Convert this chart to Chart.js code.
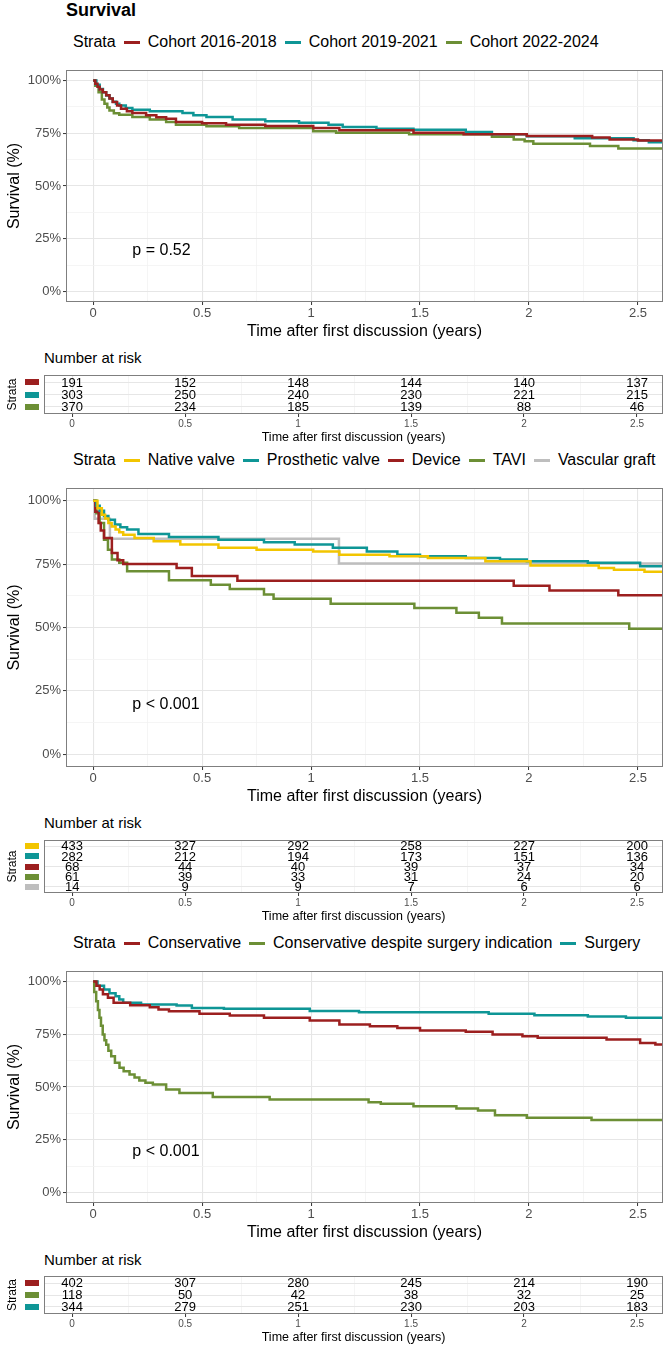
<!doctype html>
<html lang="en">
<head>
<meta charset="utf-8">
<title>Survival</title>
<style>
  body { margin: 0; background: #fff; font-family: 'Liberation Sans', Arial, sans-serif; }
  #page { position: relative; width: 672px; height: 1347px; overflow: hidden; }
  canvas { position: absolute; left: 0; }
  .txt { position: absolute; white-space: nowrap; color: #000; }
  .legend { position: absolute; left: 73px; display: flex; align-items: center; height: 18px; font-size: 16px; line-height: 18px; white-space: nowrap; }
  .legend .key { width: 16px; height: 3px; margin: 0 8px; }
</style>
</head>
<body>
<div id="page">
  <div class="txt" style="left:66px;top:0;font-size:18px;line-height:20px;font-weight:bold">Survival</div>
  <div class="legend" id="legend1" style="top:33px"></div>
  <canvas id="km1"></canvas>
  <div class="txt" style="left:44px;top:349px;font-size:15px;line-height:18px">Number at risk</div>
  <canvas id="risk1"></canvas>

  <div class="legend" id="legend2" style="top:451px"></div>
  <canvas id="km2"></canvas>
  <div class="txt" style="left:44px;top:814px;font-size:15px;line-height:18px">Number at risk</div>
  <canvas id="risk2"></canvas>

  <div class="legend" id="legend3" style="top:934px"></div>
  <canvas id="km3"></canvas>
  <div class="txt" style="left:44px;top:1251px;font-size:15px;line-height:18px">Number at risk</div>
  <canvas id="risk3"></canvas>
</div>

<script src="https://cdn.jsdelivr.net/npm/chart.js"></script>
<script>
// ---- data: [time in years, survival] at each step ----
const cohort1618 = [[0,1],[0.01,0.985],[0.02,0.97],[0.03,0.958],[0.044,0.945],[0.06,0.93],[0.075,0.915],[0.09,0.898],[0.11,0.882],[0.128,0.866],[0.155,0.855],[0.18,0.846],[0.243,0.835],[0.29,0.826],[0.335,0.819],[0.38,0.803],[0.5,0.797],[0.61,0.79],[0.79,0.785],[1.01,0.775],[1.13,0.764],[1.47,0.752],[1.7,0.745],[1.99,0.737],[2.29,0.73],[2.37,0.72],[2.5,0.716],[2.62,0.716]];
const cohort1921 = [[0,1],[0.015,0.98],[0.03,0.96],[0.045,0.945],[0.06,0.929],[0.075,0.915],[0.09,0.9],[0.105,0.89],[0.12,0.882],[0.15,0.87],[0.18,0.862],[0.26,0.854],[0.41,0.846],[0.46,0.836],[0.52,0.827],[0.64,0.815],[0.79,0.807],[0.945,0.8],[1.08,0.79],[1.145,0.78],[1.3,0.772],[1.47,0.767],[1.71,0.756],[1.83,0.745],[1.99,0.736],[2.21,0.726],[2.48,0.717],[2.55,0.708],[2.62,0.708]];
const cohort2224 = [[0,1],[0.01,0.975],[0.025,0.945],[0.04,0.91],[0.052,0.89],[0.065,0.872],[0.075,0.858],[0.095,0.845],[0.12,0.838],[0.18,0.827],[0.26,0.815],[0.335,0.803],[0.38,0.79],[0.52,0.783],[0.67,0.775],[1.01,0.76],[1.115,0.753],[1.45,0.745],[1.83,0.733],[1.93,0.72],[1.98,0.712],[2.02,0.70],[2.28,0.69],[2.41,0.678],[2.62,0.678]];

const nativeValve = [[0,1],[0.02,0.97],[0.04,0.945],[0.055,0.93],[0.07,0.912],[0.085,0.898],[0.103,0.886],[0.12,0.876],[0.138,0.866],[0.19,0.853],[0.278,0.84],[0.4,0.827],[0.575,0.814],[0.75,0.807],[1.01,0.8],[1.13,0.787],[1.36,0.781],[1.536,0.774],[1.8,0.761],[2.007,0.744],[2.32,0.735],[2.39,0.728],[2.53,0.72],[2.62,0.72]];
const prostheticValve = [[0,1],[0.015,0.98],[0.03,0.96],[0.05,0.94],[0.07,0.925],[0.1,0.906],[0.125,0.895],[0.156,0.886],[0.208,0.869],[0.348,0.857],[0.575,0.846],[0.784,0.836],[0.925,0.827],[1.1,0.814],[1.256,0.8],[1.396,0.787],[1.5,0.781],[1.71,0.774],[1.867,0.768],[1.99,0.761],[2.27,0.755],[2.51,0.741],[2.62,0.741]];
const device = [[0,1],[0.01,0.956],[0.025,0.912],[0.035,0.882],[0.05,0.853],[0.086,0.794],[0.112,0.765],[0.138,0.75],[0.383,0.735],[0.453,0.703],[0.662,0.684],[1.93,0.665],[2.094,0.646],[2.41,0.627],[2.62,0.627]];
const tavi = [[0,1],[0.015,0.95],[0.03,0.912],[0.05,0.846],[0.068,0.807],[0.086,0.768],[0.12,0.755],[0.156,0.722],[0.348,0.686],[0.54,0.669],[0.627,0.652],[0.784,0.63],[0.828,0.613],[1.09,0.594],[1.474,0.577],[1.667,0.558],[1.77,0.538],[1.876,0.516],[2.46,0.495],[2.62,0.495]];
const vascularGraft = [[0,1],[0.007,0.929],[0.077,0.85],[1.128,0.752],[2.62,0.752]];

const conservative = [[0,1],[0.015,0.98],[0.03,0.962],[0.045,0.94],[0.068,0.923],[0.094,0.899],[0.17,0.888],[0.26,0.878],[0.3,0.868],[0.348,0.859],[0.488,0.847],[0.627,0.839],[0.784,0.828],[0.994,0.815],[1.13,0.796],[1.27,0.788],[1.396,0.78],[1.5,0.768],[1.71,0.762],[1.833,0.749],[1.97,0.741],[2.04,0.733],[2.356,0.725],[2.51,0.709],[2.58,0.702],[2.62,0.702]];
const despiteIndication = [[0,1],[0.005,0.95],[0.014,0.907],[0.022,0.865],[0.029,0.828],[0.036,0.79],[0.044,0.749],[0.052,0.722],[0.06,0.7],[0.07,0.672],[0.083,0.646],[0.1,0.615],[0.121,0.591],[0.14,0.575],[0.167,0.559],[0.19,0.545],[0.212,0.531],[0.24,0.52],[0.274,0.512],[0.335,0.488],[0.396,0.472],[0.549,0.452],[0.81,0.441],[1.264,0.428],[1.32,0.42],[1.47,0.409],[1.667,0.398],[1.766,0.389],[1.844,0.366],[1.99,0.354],[2.287,0.343],[2.62,0.343]];
const surgery = [[0,1],[0.02,0.98],[0.05,0.962],[0.075,0.945],[0.103,0.93],[0.12,0.915],[0.138,0.899],[0.22,0.891],[0.383,0.886],[0.453,0.875],[0.6,0.871],[0.994,0.86],[1.22,0.855],[1.815,0.847],[2.025,0.84],[2.27,0.834],[2.445,0.828],[2.62,0.828]];

const strata1 = ['Cohort 2016-2018', 'Cohort 2019-2021', 'Cohort 2022-2024'];
const strata2 = ['Native valve', 'Prosthetic valve', 'Device', 'TAVI', 'Vascular graft'];
const strata3 = ['Conservative', 'Conservative despite surgery indication', 'Surgery'];

const pValues = ['p = 0.52', 'p < 0.001', 'p < 0.001'];

// number at risk
const riskTimes = [0, 0.5, 1, 1.5, 2, 2.5];
const risk1 = [[191,152,148,144,140,137],[303,250,240,230,221,215],[370,234,185,139,88,46]];
const risk2 = [[433,327,292,258,227,200],[282,212,194,173,151,136],[68,44,40,39,37,34],[61,39,33,31,24,20],[14,9,9,7,6,6]];
const risk3 = [[402,307,280,245,214,190],[118,50,42,38,32,25],[344,279,251,230,203,183]];

const xGrid = [0,0.25,0.5,0.75,1,1.25,1.5,1.75,2,2.25,2.5];
const yGrid = [0,0.125,0.25,0.375,0.5,0.625,0.75,0.875,1];

// ---- styling ----
const RED = '#9C1F1F', TEAL = '#0E9696', GREEN = '#6C8F35', YELLOW = '#F2C500', GREY = '#BEBEBE';
const FONT = "'Liberation Sans', Arial, sans-serif";
const xMin = -0.1245, xMax = 2.615;

Chart.defaults.font.family = FONT;
Chart.defaults.color = '#000';

const isMajor = (v, step) => Math.abs(v / step - Math.round(v / step)) < 1e-6;

const panelBox = {
  id: 'panelBox',
  afterDraw(chart) {
    const a = chart.chartArea, c = chart.ctx;
    c.save();
    c.strokeStyle = '#7f7f7f';
    c.lineWidth = 1;
    c.strokeRect(Math.round(a.left) + 0.5, Math.round(a.top) + 0.5, Math.round(a.right - a.left) - 1, Math.round(a.bottom - a.top) - 1);
    c.restore();
  }
};

const pLabel = {
  id: 'pLabel',
  afterDatasetsDraw(chart, args, opts) {
    const {ctx, scales: {x, y}} = chart;
    ctx.save();
    ctx.font = '16px ' + FONT;
    ctx.fillStyle = '#000';
    ctx.textAlign = 'left';
    ctx.textBaseline = 'middle';
    ctx.fillText(opts.text, x.getPixelForValue(0.18), y.getPixelForValue(0.195));
    ctx.restore();
  }
};

const riskText = {
  id: 'riskText',
  afterDatasetsDraw(chart) {
    const {ctx, scales: {y}} = chart;
    ctx.save();
    chart.data.datasets.forEach((ds, i) => {
      const meta = chart.getDatasetMeta(i);
      ctx.font = '13px ' + FONT;
      ctx.fillStyle = '#000';
      ctx.textAlign = 'center';
      ctx.textBaseline = 'middle';
      meta.data.forEach((pt, j) => ctx.fillText(String(ds.counts[j]), pt.x, pt.y + 0.5));
      ctx.fillStyle = ds.swatch;
      ctx.fillRect(25, Math.round(y.getPixelForValue(i + 1)) - 3, 14, 6);
    });
    ctx.restore();
  }
};

function gridOpts(step) {
  return {
    color: ctx => isMajor(ctx.tick.value, step) ? '#e6e6e6' : '#f2f2f2',
    lineWidth: ctx => isMajor(ctx.tick.value, step) ? 1.1 : 0.8,
    tickLength: 3,
    tickWidth: 1,
    tickColor: ctx => isMajor(ctx.tick.value, step) ? '#333' : 'rgba(0,0,0,0)'
  };
}

function buildLegend(id, names, colors) {
  const el = document.getElementById(id);
  el.innerHTML = '<span>Strata</span>' + names.map((n, i) =>
    '<span class="key" style="background:' + colors[i] + '"></span><span>' + n + '</span>').join('');
}

function kmChart(id, top, panelTop, panelBottom, curves, names, colors, pText) {
  const cv = document.getElementById(id);
  cv.width = 672;
  cv.height = panelBottom + 40 - top;
  cv.style.top = top + 'px';
  new Chart(cv, {
    type: 'line',
    data: {
      datasets: curves.map((d, i) => ({
        label: names[i], data: d, borderColor: colors[i], backgroundColor: colors[i],
        borderWidth: 2.5, pointRadius: 0, stepped: 'before', fill: false
      }))
    },
    options: {
      responsive: false,
      animation: false,
      events: [],
      layout: { padding: { top: panelTop - top, right: 9, bottom: 0, left: 0 } },
      scales: {
        x: {
          type: 'linear', min: xMin, max: xMax,
          afterBuildTicks: s => { s.ticks = xGrid.map(v => ({ value: v })); },
          afterFit: s => { s.height = 40; },
          grid: gridOpts(0.5),
          border: { display: false },
          ticks: { autoSkip: false, maxRotation: 0, padding: 2, color: '#4d4d4d',
                   font: { size: 13, lineHeight: 1 },
                   callback: v => isMajor(v, 0.5) ? String(v) : '' },
          title: { display: true, text: 'Time after first discussion (years)', color: '#000',
                   font: { size: 16 }, padding: { top: 0, bottom: 1 } }
        },
        y: {
          type: 'linear', min: -0.05, max: 1.05,
          afterBuildTicks: s => { s.ticks = yGrid.map(v => ({ value: v })); },
          afterFit: s => { s.width = 66; },
          grid: gridOpts(0.25),
          border: { display: false },
          ticks: { autoSkip: false, padding: 2, color: '#4d4d4d', font: { size: 13, lineHeight: 1 },
                   callback: v => isMajor(v, 0.25) ? Math.round(v * 100) + '%' : '' },
          title: { display: true, text: 'Survival (%)', color: '#000', font: { size: 16 }, padding: { top: 5, bottom: 0 } }
        }
      },
      plugins: { legend: { display: false }, tooltip: { enabled: false }, pLabel: { text: pText } }
    },
    plugins: [panelBox, pLabel]
  });
}

function riskTable(id, top, panelTop, panelBottom, counts, colors) {
  const cv = document.getElementById(id);
  const n = counts.length;
  cv.width = 672;
  cv.height = panelBottom + 32 - top;
  cv.style.top = top + 'px';
  new Chart(cv, {
    type: 'scatter',
    data: {
      datasets: counts.map((row, i) => ({
        data: riskTimes.map(t => ({ x: t, y: i + 1 })),
        counts: row, swatch: colors[i], pointRadius: 0
      }))
    },
    options: {
      responsive: false,
      animation: false,
      events: [],
      layout: { padding: { top: panelTop - top, right: 9, bottom: 0, left: 0 } },
      scales: {
        x: {
          type: 'linear', min: xMin, max: xMax,
          afterBuildTicks: s => { s.ticks = xGrid.map(v => ({ value: v })); },
          afterFit: s => { s.height = 32; },
          grid: gridOpts(0.5),
          border: { display: false },
          ticks: { autoSkip: false, maxRotation: 0, padding: 2, color: '#4d4d4d',
                   font: { size: 10, lineHeight: 1 },
                   callback: v => isMajor(v, 0.5) ? String(v) : '' },
          title: { display: true, text: 'Time after first discussion (years)', color: '#000',
                   font: { size: 12.5 }, padding: { top: 0, bottom: 1 } }
        },
        y: {
          type: 'linear', min: 0.4, max: n + 0.6, reverse: true,
          afterBuildTicks: s => { s.ticks = counts.map((r, i) => ({ value: i + 1 })); },
          afterFit: s => { s.width = 44; },
          grid: { color: '#e6e6e6', lineWidth: 1.1, drawTicks: false },
          border: { display: false },
          ticks: { callback: () => '' },
          title: { display: true, text: 'Strata', color: '#000', font: { size: 12 }, padding: { top: 5.7, bottom: 0 } }
        }
      },
      plugins: { legend: { display: false }, tooltip: { enabled: false } }
    },
    plugins: [panelBox, riskText]
  });
}

const colors1 = [RED, TEAL, GREEN];
const colors2 = [YELLOW, TEAL, RED, GREEN, GREY];
const colors3 = [RED, GREEN, TEAL];

buildLegend('legend1', strata1, colors1);
buildLegend('legend2', strata2, colors2);
buildLegend('legend3', strata3, colors3);

kmChart('km1', 60, 70, 302, [cohort1618, cohort1921, cohort2224], strata1, colors1, pValues[0]);
riskTable('risk1', 365, 372, 414, risk1, colors1);

kmChart('km2', 478, 488, 767, [nativeValve, prostheticValve, device, tavi, vascularGraft], strata2, colors2, pValues[1]);
riskTable('risk2', 830, 837, 893, risk2, colors2);

kmChart('km3', 961, 971, 1203, [conservative, despiteIndication, surgery], strata3, colors3, pValues[2]);
riskTable('risk3', 1266, 1273, 1314, risk3, colors3);
</script>
</body>
</html>
